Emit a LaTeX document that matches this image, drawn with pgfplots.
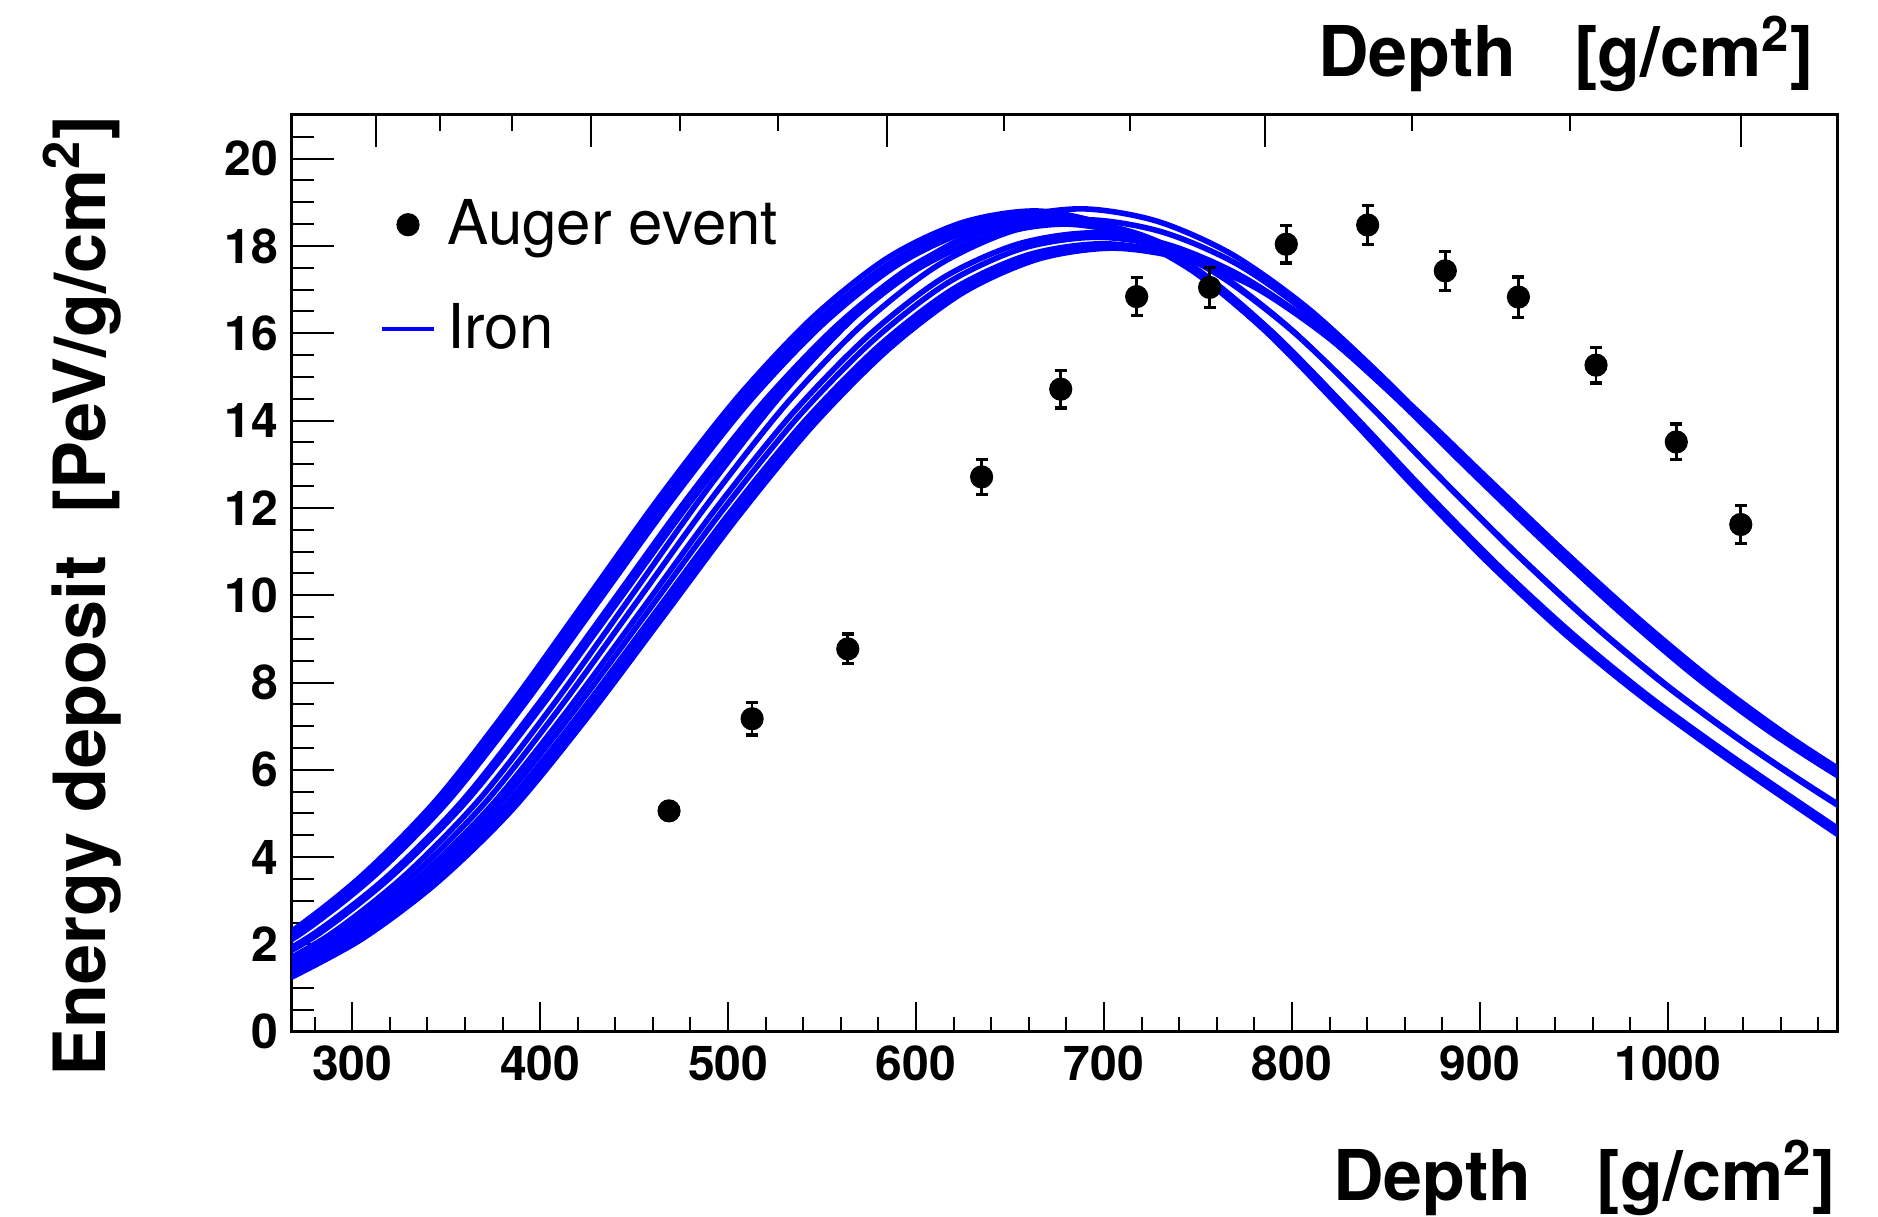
\documentclass[border=0pt]{standalone}
\usepackage{fontspec}
\setmainfont{TeX Gyre Heros}
\usepackage{pgfplots}
\pgfplotsset{compat=1.18}
\definecolor{rootblue}{rgb}{0,0,1}
\pgfplotsset{
  common/.style={scale only axis, width=386.25pt, height=229.2pt,
    xmin=268, xmax=1090, ymin=0, ymax=21},
  curve/.style={rootblue, line width=1.4pt, smooth, no markers, forget plot},
  augerleg/.style={legend image code/.code={\draw[mark repeat=2,mark phase=2,##1] plot coordinates {(0pt,0pt) (6.5pt,0pt) (13pt,0pt)};}},
  ironleg/.style={legend image code/.code={\draw[##1] (0pt,0pt) -- (13pt,0pt);}},
}
\begin{document}
\begin{tikzpicture}
\useasboundingbox (-73pt,-46.3pt) rectangle (396.5pt,257.95pt);
\begin{axis}[common,
  axis line style={line width=0.75pt},
  xtick=\empty,
  ytick={0,2,...,20}, yticklabels={0,2,4,6,8,10,12,14,16,18,20},
  minor ytick={0.5,1,...,20.5},
  tick pos=left, tick align=inside,
  major tick length=10.5pt, minor tick length=5.5pt,
  tick style={line width=0.5pt, black},
  yticklabel style={font=\bfseries\fontsize{12}{12}\selectfont},
  ylabel={Energy deposit\hspace{10.5pt}[PeV/g/cm\textsuperscript{2}]},
  ylabel style={at={(axis description cs:-0.121,1)}, anchor=base east, inner sep=0pt, font=\bfseries\fontsize{18}{18}\selectfont},
  legend style={at={(axis cs:314.3,19.09)}, anchor=north west, draw=none, fill=none, inner sep=0pt,
    row sep=13.25pt, column sep=2.8pt, font=\fontsize{15.45}{15.45}\selectfont, nodes={inner sep=0pt}},
  legend cell align=left,
]
\addlegendimage{augerleg, only marks, mark=*, mark size=2.7pt, black}
\addlegendentry{Auger event}
\addlegendimage{ironleg, rootblue, line width=1.1pt}
\addlegendentry{Iron}

% early group
\addplot[curve] coordinates {(225,1.24)(265,2.22)(305,3.57)(345,5.32)(385,7.53)(425,9.93)(465,12.33)(505,14.53)(545,16.36)(585,17.73)(625,18.54)(665,18.80)(705,18.42)(745,17.52)(785,16.09)(825,14.33)(865,12.48)(905,10.72)(945,9.12)(985,7.71)(1025,6.45)(1065,5.26)(1105,4.10)(1145,3.01)};
\addplot[curve] coordinates {(227,1.23)(267,2.21)(307,3.55)(347,5.29)(387,7.49)(427,9.87)(467,12.27)(507,14.46)(547,16.27)(587,17.63)(627,18.44)(667,18.70)(707,18.33)(747,17.43)(787,16.01)(827,14.25)(867,12.42)(907,10.66)(947,9.07)(987,7.67)(1027,6.41)(1067,5.24)(1107,4.08)(1147,2.99)};
\addplot[curve] coordinates {(229,1.24)(269,2.21)(309,3.56)(349,5.31)(389,7.51)(429,9.90)(469,12.30)(509,14.49)(549,16.31)(589,17.68)(629,18.49)(669,18.75)(709,18.38)(749,17.48)(789,16.05)(829,14.29)(869,12.45)(909,10.69)(949,9.09)(989,7.69)(1029,6.43)(1069,5.25)(1109,4.09)(1149,3.00)};
\addplot[curve] coordinates {(231,1.23)(271,2.20)(311,3.54)(351,5.28)(391,7.47)(431,9.85)(471,12.23)(511,14.42)(551,16.23)(591,17.59)(631,18.39)(671,18.65)(711,18.28)(751,17.38)(791,15.96)(831,14.21)(871,12.38)(911,10.63)(951,9.05)(991,7.65)(1031,6.40)(1071,5.22)(1111,4.07)(1151,2.98)};
% middle group
\addplot[curve] coordinates {(238,1.23)(278,2.20)(318,3.53)(358,5.26)(398,7.45)(438,9.82)(478,12.20)(518,14.38)(558,16.18)(598,17.54)(638,18.34)(678,18.60)(718,18.28)(758,17.46)(798,16.15)(838,14.49)(878,12.72)(918,11.00)(958,9.40)(998,7.96)(1038,6.69)(1078,5.53)(1118,4.46)(1158,3.50)};
\addplot[curve] coordinates {(240,1.22)(280,2.18)(320,3.52)(360,5.24)(400,7.41)(440,9.77)(480,12.14)(520,14.30)(560,16.10)(600,17.45)(640,18.24)(680,18.50)(720,18.18)(760,17.36)(800,16.06)(840,14.41)(880,12.65)(920,10.94)(960,9.35)(1000,7.92)(1040,6.65)(1080,5.50)(1120,4.44)(1160,3.48)};
% late group
\addplot[curve] coordinates {(248,1.24)(288,2.22)(328,3.58)(368,5.34)(408,7.55)(448,9.95)(488,12.37)(528,14.57)(568,16.40)(608,17.78)(648,18.59)(688,18.85)(728,18.57)(768,17.81)(808,16.59)(848,15.01)(888,13.27)(928,11.56)(968,9.92)(1008,8.41)(1048,7.09)(1088,5.94)(1128,4.94)(1168,4.07)};
\addplot[curve] coordinates {(251,1.23)(291,2.20)(331,3.53)(371,5.26)(411,7.45)(451,9.82)(491,12.20)(531,14.38)(571,16.18)(611,17.54)(651,18.34)(691,18.60)(731,18.32)(771,17.58)(811,16.37)(851,14.81)(891,13.09)(931,11.40)(971,9.78)(1011,8.30)(1051,6.99)(1091,5.86)(1131,4.87)(1171,4.02)};
\addplot[curve] coordinates {(254,1.21)(294,2.16)(334,3.48)(374,5.18)(414,7.33)(454,9.66)(494,12.01)(534,14.15)(574,15.92)(614,17.26)(654,18.04)(694,18.30)(734,18.03)(774,17.29)(814,16.10)(854,14.57)(894,12.88)(934,11.22)(974,9.63)(1014,8.16)(1054,6.88)(1094,5.77)(1134,4.80)(1174,3.95)};
\addplot[curve] coordinates {(257,1.20)(297,2.15)(337,3.46)(377,5.15)(417,7.29)(457,9.61)(497,11.94)(537,14.07)(577,15.83)(617,17.16)(657,17.95)(697,18.20)(737,17.93)(777,17.20)(817,16.02)(857,14.49)(897,12.81)(937,11.16)(977,9.57)(1017,8.12)(1057,6.84)(1097,5.73)(1137,4.77)(1177,3.93)};
\addplot[curve] coordinates {(260,1.19)(300,2.13)(340,3.43)(380,5.11)(420,7.23)(460,9.53)(500,11.84)(540,13.95)(580,15.70)(620,17.02)(660,17.80)(700,18.05)(740,17.78)(780,17.06)(820,15.88)(860,14.37)(900,12.71)(940,11.07)(980,9.49)(1020,8.05)(1060,6.79)(1100,5.69)(1140,4.73)(1180,3.90)};
\addplot[curve] coordinates {(263,1.19)(303,2.12)(343,3.42)(383,5.09)(423,7.21)(463,9.50)(503,11.81)(543,13.91)(583,15.66)(623,16.97)(663,17.75)(703,18.00)(743,17.73)(783,17.01)(823,15.84)(863,14.33)(903,12.67)(943,11.03)(983,9.47)(1023,8.03)(1063,6.77)(1103,5.67)(1143,4.72)(1183,3.89)};
\addplot[curve] coordinates {(265,1.19)(305,2.12)(345,3.41)(385,5.08)(425,7.19)(465,9.48)(505,11.78)(545,13.88)(585,15.62)(625,16.93)(665,17.70)(705,17.95)(745,17.68)(785,16.96)(825,15.80)(865,14.29)(905,12.64)(945,11.00)(985,9.44)(1025,8.01)(1065,6.75)(1105,5.65)(1145,4.70)(1185,3.88)};

\addplot[only marks, mark=*, mark size=2.7pt, black, forget plot,
  error bars/.cd, y dir=both, y explicit,
  error bar style={line width=0.65pt, black},
  error mark=-, error mark options={rotate=90, mark size=1.5pt, line width=0.8pt, black}]
  table[x=x, y=y, y error=e] {
x y e
468.6 5.06 0.15
512.8 7.17 0.37
563.7 8.77 0.34
634.9 12.71 0.40
677.0 14.72 0.43
717.4 16.84 0.44
756.2 17.05 0.46
797.0 18.04 0.43
840.3 18.48 0.44
881.6 17.43 0.45
920.5 16.83 0.46
961.8 15.27 0.41
1004.5 13.51 0.41
1038.8 11.62 0.43
};
\end{axis}

% bottom x axis ticks and labels
\begin{axis}[common,
  hide y axis, axis x line*=bottom,
  x axis line style={-, line width=0.75pt},
  xtick={300,400,...,1000}, xticklabels={300,400,500,600,700,800,900,1000},
  minor xtick={280,300,...,1080},
  tick align=inside, major tick length=7.5pt, minor tick length=3.75pt,
  tick style={line width=0.5pt, black},
  xticklabel style={font=\bfseries\fontsize{12}{12}\selectfont},
  xlabel={Depth\hspace{16.4pt}[g/cm\textsuperscript{2}]},
  xlabel style={at={(axis description cs:1,0)}, anchor=base east, inner sep=0pt, yshift=-42.3pt, font=\bfseries\fontsize{17.5}{17.5}\selectfont},
]
\end{axis}

% top axis ticks and title
\begin{axis}[common,
  hide y axis, axis x line*=top,
  x axis line style={-, line width=0.75pt},
  xtick={312.6,427.3,584.3,785.9,1038.8}, xticklabels={},
  minor xtick={346.8,384.8,474.2,526.4,646.9,713.7,863.8,948},
  tick align=inside, major tick length=8pt, minor tick length=4pt,
  tick style={line width=0.5pt, black},
  xlabel={Depth\hspace{14.6pt}[g/cm\textsuperscript{2}]},
  xlabel style={at={(axis description cs:1,1)}, anchor=base east, inner sep=0pt, xshift=-5.6pt, yshift=9.6pt, font=\bfseries\fontsize{17.5}{17.5}\selectfont},
]
\end{axis}
\end{tikzpicture}
\end{document}
